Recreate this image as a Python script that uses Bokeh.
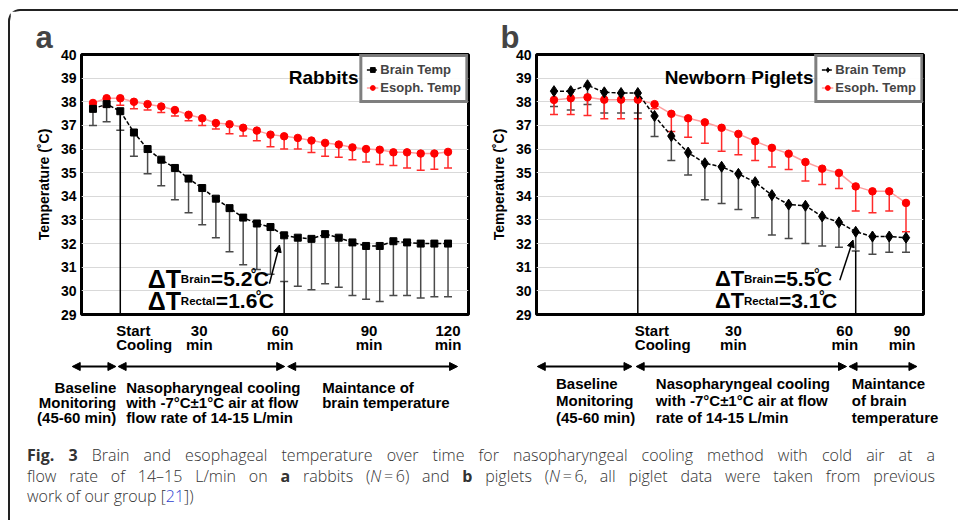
from bokeh.plotting import figure
from bokeh.models import (ColumnDataSource, Whisker, TeeHead, Label, Arrow, NormalHead,
                          FixedTicker, Legend, LegendItem, Div, Range1d, Title)
from bokeh.layouts import row, column
from bokeh.embed import file_html
from bokeh.resources import INLINE

FONT = "Liberation Sans"

Y_TICKS = [29, 30, 31, 32, 33, 34, 35, 36, 37, 38, 39, 40]

# ---------------- panel a : rabbits (minutes relative to start of cooling)
A_TIME = [-10, -5, 0, 5, 10, 15, 20, 25, 30, 35, 40, 45, 50, 55, 60, 65, 70, 75,
          80, 85, 90, 95, 100, 105, 110, 115, 120]
A_BRAIN = [37.7, 37.9, 37.6, 36.7, 36.0, 35.55, 35.2, 34.75, 34.35, 33.9, 33.5, 33.1,
           32.85, 32.7, 32.35, 32.25, 32.2, 32.4, 32.25, 32.05, 31.9, 31.9, 32.1, 32.05,
           32.0, 32.0, 32.0]
A_BRAIN_LOW = [37.0, 37.15, 36.8, 35.7, 34.95, 34.45, 33.85, 33.3, 32.8, 32.25, 31.65, 31.1,
               30.9, 30.7, 30.4, 30.2, 30.05, 30.3, 30.15, 29.8, 29.65, 29.55, 29.8, 29.8,
               29.7, 29.75, 29.75]
A_ESO = [37.95, 38.15, 38.15, 38.0, 37.9, 37.8, 37.65, 37.45, 37.3, 37.1, 37.05, 36.9,
         36.78, 36.61, 36.54, 36.47, 36.36, 36.26, 36.19, 36.07, 36.0, 35.97, 35.86, 35.86,
         35.81, 35.81, 35.88]
A_ESO_LOW = [37.65, 37.8, 37.85, 37.7, 37.65, 37.55, 37.4, 37.2, 37.0, 36.85, 36.65, 36.55,
             36.35, 36.1, 36.0, 36.0, 35.85, 35.7, 35.65, 35.55, 35.45, 35.35, 35.3, 35.2,
             35.1, 35.15, 35.2]
A_COOL_START = 0
A_COOL_END = 60
A_TICK_POS = [0, 30, 60, 90, 120]
A_TICK_L1 = ["Start", "30", "60", "90", "120"]
A_TICK_L2 = ["Cooling", "min", "min", "min", "min"]
A_TICK_ALIGN = ["left", "center", "center", "center", "center"]
A_TICK_DX = [-4, -3, -4, 3, 0]
A_PHASES = [(-17.6, -1.6), (-0.8, 60.2), (61.3, 123.5)]
A_PHASE_TEXT = [["Baseline", "Monitoring", "(45-60 min)"],
                ["Nasopharyngeal cooling", "with -7°C±1°C  air at flow", "flow rate of 14-15 L/min"],
                ["Maintance of", "brain temperature"]]
A_PHASE_X = [0, 0, 60]
A_PHASE_ALIGN = ["right", "left", "left"]
A_PHASE_DX = [-4, 6, 38]
A_PHASE_Y = [72.5, 87.5, 103]
A_DT_X = 10.1
A_DT = [[("ΔT", 0, 25, 0), ("Brain", 33, 11.5, 0), ("=5.2", 63, 21, 0),
         ("°", 103, 14, 5), ("C", 106, 21, 0)],
        [("ΔT", 0, 25, 0), ("Rectal", 33, 11.5, 0), ("=1.6", 68, 21, 0),
         ("°", 108, 14, 5), ("C", 111, 21, 0)]]
A_DT_ARROW = (54.6, 30.3, 58.3, 31.94)

# ---------------- panel b : newborn piglets (sample index)
B_IDX = [0, 1, 2, 3, 4, 5, 6, 7, 8, 9, 10, 11, 12, 13, 14, 15, 16, 17, 18, 19, 20, 21]
B_BRAIN = [38.45, 38.45, 38.7, 38.4, 38.37, 38.37, 37.4, 36.55, 35.85, 35.4, 35.25, 34.95,
           34.6, 34.05, 33.65, 33.6, 33.15, 32.9, 32.5, 32.3, 32.3, 32.25]
B_BRAIN_LOW = [37.8, 37.65, 37.88, 37.53, 37.53, 37.53, 36.53, 35.52, 34.9, 33.86, 33.7, 33.44,
               33.09, 32.36, 32.22, 32.0, 31.9, 31.84, 31.69, 31.55, 31.63, 31.63]
B_ESO = [38.08, 38.15, 38.19, 38.09, 38.09, 38.09, 37.9, 37.49, 37.3, 37.13, 36.9, 36.64,
         36.33, 36.05, 35.8, 35.45, 35.17, 34.99, 34.42, 34.21, 34.21, 33.72]
B_ESO_LOW = [37.46, 37.46, 37.42, 37.28, 37.28, 37.28, 37.7, 36.74, 36.5, 36.25, 35.91, 35.76,
             35.52, 35.24, 35.13, 34.65, 34.5, 34.33, 33.38, 33.3, 33.38, 32.5]
B_COOL_START = 5
B_COOL_END = 18
B_TICK_POS = [5, 11, 18, 21]
B_TICK_L1 = ["Start", "30", "60", "90"]
B_TICK_L2 = ["Cooling", "min", "min", "min"]
B_TICK_ALIGN = ["left", "center", "center", "center"]
B_TICK_DX = [2, 0, -6, 1]
B_PHASES = [(-0.7, 4.95), (5.2, 17.75), (17.9, 21.95)]
B_PHASE_TEXT = [["Baseline", "Monitoring", "(45-60 min)"],
                ["Nasopharyngeal cooling", "with  -7°C±1°C  air at flow", "rate of 14-15 L/min"],
                ["Maintance", "of  brain", "temperature"]]
B_PHASE_X = [0, 5, 18]
B_PHASE_ALIGN = ["left", "left", "left"]
B_PHASE_DX = [7, 23, 1]
B_PHASE_Y = [69, 86, 103]
B_DT_X = 9.6
B_DT = [[("ΔT", 0, 22, 0), ("Brain", 29, 11.5, 0), ("=5.5", 59, 21, 0),
         ("°", 99, 14, 5), ("C", 102, 21, 0)],
        [("ΔT", 0, 22, 0), ("Rectal", 29, 11.5, 0), ("=3.1", 64, 21, 0),
         ("°", 104, 14, 5), ("C", 107, 21, 0)]]
B_DT_ARROW = (17.05, 30.45, 17.84, 32.15)

CAPTION_LINES = [
    "<b style='font-weight:700'>Fig. 3</b> Brain and esophageal temperature over time for nasopharyngeal cooling method with cold air at a",
    "flow rate of 14–15 L/min on <b style='font-weight:700'>a</b> rabbits (<i>N</i>&#8201;=&#8201;6) and <b style='font-weight:700'>b</b> piglets (<i>N</i>&#8201;=&#8201;6, all piglet data were taken from previous",
    "work of our group [<span style='color:#2d3fd0'>21</span>])",
]

FRAME_W, FRAME_H = 387, 260
TOP = 43
GAP = 7          # space kept under the upper frame inside the upper figure
LOW_H = 109      # height of the strip under each chart


def lab(p, x, y, text, size, align="left", baseline="middle", dx=0, dy=0,
        style="bold", color="black"):
    p.add_layout(Label(x=x, y=y, text=text, x_offset=dx, y_offset=dy, text_font=FONT,
                       text_font_size=f"{size}px", text_font_style=style, text_align=align,
                       text_baseline=baseline, text_color=color))


def panel(letter, title, x, brain, blow, eso, elow, xr, left, right, marker, msize,
          cstart, cend, tpos, tl1, tl2, talign, tdx, phases, ptext, px, palign, pdx, py,
          dtx, dt, dtarrow, letter_dx):
    p = figure(x_range=Range1d(*xr), y_range=Range1d(Y_TICKS[0], Y_TICKS[-1]),
               frame_width=FRAME_W, frame_height=FRAME_H, min_border_left=left,
               min_border_right=right, min_border_top=TOP, min_border_bottom=GAP,
               output_backend="svg", toolbar_location=None)
    p.title = Title(text=letter, align="left", offset=letter_dx, standoff=0,
                    text_font=FONT, text_font_size="31px", text_font_style="bold",
                    vertical_align="bottom")
    p.outline_line_color = "black"
    p.outline_line_width = 3
    p.xaxis.visible = False
    p.xgrid.visible = False
    p.ygrid.grid_line_color = "#d9d9d9"
    p.ygrid.grid_line_width = 1
    ya = p.yaxis[0]
    ya.ticker = FixedTicker(ticks=Y_TICKS)
    ya.axis_line_color = None
    ya.major_tick_line_color = None
    ya.minor_tick_line_color = None
    ya.major_tick_out = 0
    ya.major_tick_in = 0
    ya.minor_tick_out = 0
    ya.minor_tick_in = 0
    ya.major_label_standoff = 5
    ya.major_label_text_font = FONT
    ya.major_label_text_font_style = "bold"
    ya.major_label_text_font_size = "14px"
    ya.major_label_text_color = "black"
    ya.axis_label = "Temperature (˚C)"
    ya.axis_label_text_font = FONT
    ya.axis_label_text_font_style = "bold"
    ya.axis_label_text_font_size = "14px"
    ya.axis_label_text_color = "black"
    ya.axis_label_standoff = 6

    src = ColumnDataSource(dict(x=x, brain=brain, blow=blow, eso=eso, elow=elow))
    p.add_layout(Whisker(source=src, base="x", upper="brain", lower="blow",
                         line_color="#4a4a4a", line_width=1.5, upper_head=None,
                         lower_head=TeeHead(size=8, line_color="#4a4a4a", line_width=1.5)))
    p.add_layout(Whisker(source=src, base="x", upper="eso", lower="elow",
                         line_color="#ff2a2a", line_width=1.5, upper_head=None,
                         lower_head=TeeHead(size=8, line_color="#ff2a2a", line_width=1.5)))

    i0 = x.index(cstart)
    i1 = x.index(cend)
    p.segment(x0=[cstart, cend], y0=[Y_TICKS[0], Y_TICKS[0]], x1=[cstart, cend],
              y1=[brain[i0], blow[i1]], line_color="black", line_width=1.5)

    el = p.line("x", "eso", source=src, line_color="#ff9d9d", line_width=1.5)
    es = p.scatter("x", "eso", source=src, marker="circle", size=7.5, fill_color="#ff0000",
                   line_color="#ff0000")
    bl = p.line("x", "brain", source=src, line_color="black", line_width=1.5, line_dash="4 2")
    bs = p.scatter("x", "brain", source=src, marker=marker, size=msize, fill_color="black",
                   line_color="black")

    leg = Legend(items=[LegendItem(label="Brain Temp", renderers=[bl, bs]),
                        LegendItem(label="Esoph. Temp", renderers=[el, es])],
                 location="top_right", margin=0, padding=4, spacing=1,
                 border_line_color="black", border_line_width=3,
                 label_text_font=FONT, label_text_font_style="bold",
                 label_text_font_size="13px", glyph_width=12, glyph_height=17,
                 label_height=17, label_standoff=2)
    p.add_layout(leg)

    lab(p, xr[1], Y_TICKS[-1], title, 19, align="right", baseline="alphabetic",
        dx=-110, dy=-23)

    # delta T annotation
    for line, base in zip(dt, [36, 14]):
        for (t, ox, sz, oy) in line:
            lab(p, dtx, Y_TICKS[0], t, sz, baseline="alphabetic", dx=ox, dy=base + oy)
    x0, y0, x1, y1 = dtarrow
    p.add_layout(Arrow(x_start=x0, y_start=y0, x_end=x1, y_end=y1, line_width=1.5,
                       line_color="black",
                       end=NormalHead(size=7, fill_color="black", line_color="black")))

    # strip under the chart, same horizontal scale, y = pixels below the frame
    ppx = FRAME_W / (xr[1] - xr[0])
    q = figure(x_range=Range1d(xr[0] - left / ppx, xr[1] + right / ppx),
               y_range=Range1d(GAP + LOW_H, GAP),
               frame_width=left + FRAME_W + right, frame_height=LOW_H,
               min_border=0, output_backend="svg", toolbar_location=None)
    q.axis.visible = False
    q.grid.visible = False
    q.outline_line_color = None

    for pos, a, b, al, d in zip(tpos, tl1, tl2, talign, tdx):
        lab(q, pos, 16, a, 15, align=al, dx=d)
        lab(q, pos, 29.5, b, 15, align=al, dx=d)

    for (s, e) in phases:
        q.add_layout(Arrow(x_start=s, y_start=52, x_end=e, y_end=52, line_width=2,
                           line_color="black",
                           start=NormalHead(size=8, fill_color="black", line_color="black"),
                           end=NormalHead(size=8, fill_color="black", line_color="black")))
    for lines, ax, al, d in zip(ptext, px, palign, pdx):
        for t, yy in zip(lines, py):
            lab(q, ax, yy, t, 15, align=al, dx=d)
    return p, q


pa, qa = panel("a", "Rabbits", A_TIME, A_BRAIN, A_BRAIN_LOW, A_ESO, A_ESO_LOW, (-14.2, 127.5),
               71, 19, "square", 7, A_COOL_START, A_COOL_END, A_TICK_POS, A_TICK_L1, A_TICK_L2,
               A_TICK_ALIGN, A_TICK_DX, A_PHASES, A_PHASE_TEXT, A_PHASE_X, A_PHASE_ALIGN,
               A_PHASE_DX, A_PHASE_Y, A_DT_X, A_DT, A_DT_ARROW, -46)
pb, qb = panel("b", "Newborn Piglets", B_IDX, B_BRAIN, B_BRAIN_LOW, B_ESO, B_ESO_LOW,
               (-1.044, 22.044), 44, 31, "diamond", 11, B_COOL_START, B_COOL_END, B_TICK_POS,
               B_TICK_L1, B_TICK_L2, B_TICK_ALIGN, B_TICK_DX, B_PHASES, B_PHASE_TEXT, B_PHASE_X,
               B_PHASE_ALIGN, B_PHASE_DX, B_PHASE_Y, B_DT_X, B_DT, B_DT_ARROW, -36)

line_style = "text-align:justify;text-align-last:justify;white-space:nowrap;"
cap_html = (
    "<div style=\"width:920px;padding:10px 0 0 12px;font-family:'Open Sans';font-size:16px;"
    "font-weight:300;line-height:20.5px;color:#333;\">"
    f"<div style='{line_style}'>{CAPTION_LINES[0]}</div>"
    f"<div style='{line_style}'>{CAPTION_LINES[1]}</div>"
    f"<div style='text-align:left;white-space:nowrap;'>{CAPTION_LINES[2]}</div>"
    "</div>"
)
cap = Div(text=cap_html, width=939, height=80)

layout = column(row(pa, pb), row(qa, qb), cap,
                styles={"border-left": "2px solid #222", "border-top": "2px solid #222",
                        "border-top-left-radius": "12px", "margin-left": "8px",
                        "margin-top": "9px"})

open("out.html", "w").write(file_html(layout, INLINE))
